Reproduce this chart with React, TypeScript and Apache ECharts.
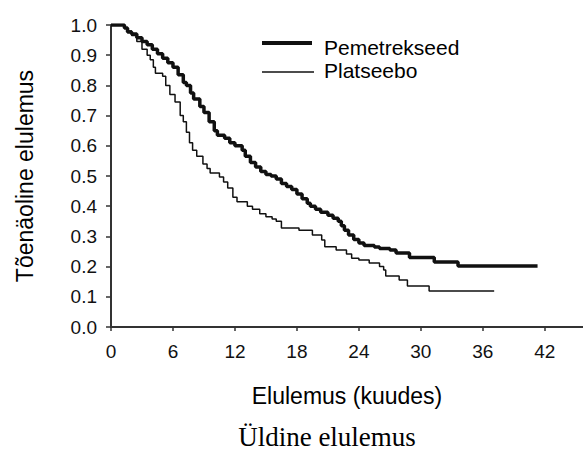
import React, { useEffect, useRef } from "react";
import * as echarts from "echarts";

// Kaplan–Meier estimates: [month, survival probability]
const pemetrexedCurve: [number, number][] = [
  [0, 1.0], [1.0, 1.0], [1.3, 0.99], [1.6, 0.977], [2.0, 0.97], [2.5, 0.958],
  [3.0, 0.945], [3.5, 0.935], [4.0, 0.92], [4.5, 0.905], [5.0, 0.89], [5.5, 0.875],
  [6.0, 0.86], [6.5, 0.835], [7.0, 0.81], [7.3, 0.8], [7.7, 0.775], [8.0, 0.755],
  [8.6, 0.73], [9.0, 0.71], [9.5, 0.68], [10.0, 0.65], [10.3, 0.635], [11.0, 0.625],
  [11.5, 0.61], [12.0, 0.6], [12.7, 0.585], [13.0, 0.565], [13.5, 0.545], [14.0, 0.53],
  [14.5, 0.515], [15.0, 0.505], [15.5, 0.5], [16.0, 0.49], [16.5, 0.475], [17.0, 0.465],
  [17.5, 0.455], [18.0, 0.44], [18.5, 0.425], [19.0, 0.41], [19.3, 0.4], [19.8, 0.39],
  [20.3, 0.38], [21.0, 0.37], [21.5, 0.36], [22.0, 0.35], [22.3, 0.335], [22.6, 0.32],
  [23.0, 0.305], [23.5, 0.29], [24.0, 0.278], [24.5, 0.27], [25.5, 0.265], [26.0, 0.26],
  [27.0, 0.255], [27.6, 0.245], [28.9, 0.23], [31.3, 0.215], [33.6, 0.202], [41.3, 0.202],
];

const placeboCurve: [number, number][] = [
  [0, 1.0], [1.0, 1.0], [1.3, 0.99], [1.6, 0.98], [2.0, 0.965], [2.5, 0.945],
  [3.0, 0.92], [3.5, 0.9], [3.8, 0.885], [4.1, 0.86], [4.3, 0.84], [5.0, 0.83],
  [5.3, 0.8], [5.7, 0.77], [6.2, 0.745], [6.7, 0.7], [7.0, 0.68], [7.3, 0.645],
  [7.6, 0.61], [7.9, 0.585], [8.3, 0.565], [8.9, 0.54], [9.3, 0.525], [9.6, 0.51],
  [10.5, 0.497], [10.9, 0.48], [11.3, 0.46], [11.8, 0.43], [12.2, 0.415], [13.2, 0.4],
  [13.7, 0.39], [14.4, 0.375], [15.0, 0.365], [15.6, 0.358], [16.0, 0.35], [16.5, 0.328],
  [18.2, 0.32], [19.5, 0.305], [20.4, 0.288], [20.7, 0.266], [21.8, 0.255], [22.8, 0.242],
  [23.3, 0.228], [24.0, 0.222], [25.0, 0.212], [26.0, 0.2], [26.4, 0.189], [26.6, 0.169],
  [27.9, 0.156], [28.7, 0.136], [30.8, 0.119], [37.1, 0.119],
];

const seriesNames = ["Pemetrekseed", "Platseebo"];
const xTickValues = [0, 6, 12, 18, 24, 30, 36, 42];
const yAxisTitle = "Tõenäoline elulemus";
const xAxisTitle = "Elulemus (kuudes)";
const captionText = "Üldine elulemus";

export default function App() {
  const ref = useRef<HTMLDivElement>(null);

  useEffect(() => {
    if (!ref.current) return;
    const chart = echarts.init(ref.current, null, { renderer: "svg" });
    const sans = "'Liberation Sans', Arial, sans-serif";
    chart.setOption({
      animation: false,
      backgroundColor: "#ffffff",
      grid: { left: 111, top: 25, right: 0, bottom: 130 },
      xAxis: {
        type: "value",
        min: 0,
        max: 45.7,
        name: xAxisTitle,
        nameLocation: "middle",
        nameGap: 57,
        nameTextStyle: { fontFamily: sans, fontSize: 23, color: "#000" },
        axisLine: { show: true, lineStyle: { color: "#333", width: 2 } },
        axisTick: { show: true, length: 4, customValues: xTickValues, lineStyle: { color: "#333", width: 1.5 } },
        axisLabel: {
          customValues: xTickValues,
          margin: 15,
          fontFamily: sans,
          fontSize: 19,
          color: "#111",
        },
        splitLine: { show: false },
      },
      yAxis: {
        type: "value",
        min: 0,
        max: 1,
        interval: 0.1,
        name: yAxisTitle,
        nameLocation: "middle",
        nameGap: 75,
        nameTextStyle: { fontFamily: sans, fontSize: 23, color: "#000" },
        axisLine: { show: true, lineStyle: { color: "#333", width: 2 } },
        axisTick: { show: true, length: 5, lineStyle: { color: "#333", width: 1.5 } },
        axisLabel: {
          margin: 14,
          fontFamily: sans,
          fontSize: 19,
          color: "#111",
          formatter: (v: number) => v.toFixed(1),
        },
        splitLine: { show: false },
      },
      series: [
        {
          name: seriesNames[0],
          type: "line",
          step: "end",
          data: pemetrexedCurve,
          showSymbol: false,
          symbol: "none",
          lineStyle: { color: "#111", width: 3.5 },
          z: 3,
        },
        {
          name: seriesNames[1],
          type: "line",
          step: "end",
          data: placeboCurve,
          showSymbol: false,
          symbol: "none",
          lineStyle: { color: "#111", width: 1.5 },
          z: 2,
        },
      ],
      graphic: [
        { type: "line", shape: { x1: 262, y1: 43, x2: 312, y2: 43 }, style: { stroke: "#111", lineWidth: 4 } },
        { type: "text", x: 324, y: 47, style: { text: seriesNames[0], fontFamily: sans, fontSize: 21, fill: "#000", textVerticalAlign: "middle" } },
        { type: "line", shape: { x1: 262, y1: 72, x2: 314, y2: 72 }, style: { stroke: "#111", lineWidth: 1.5 } },
        { type: "text", x: 324, y: 70, style: { text: seriesNames[1], fontFamily: sans, fontSize: 21, fill: "#000", textVerticalAlign: "middle" } },
        {
          type: "text",
          x: 327,
          y: 437,
          style: {
            text: captionText,
            fontFamily: "'Liberation Serif', 'Times New Roman', serif",
            fontSize: 27,
            fill: "#000",
            textAlign: "center",
            textVerticalAlign: "middle",
          },
        },
      ],
    });
    return () => chart.dispose();
  }, []);

  return (
    <div
      ref={ref}
      style={{ position: "absolute", left: 0, top: 0, width: 583, height: 457 }}
    />
  );
}
